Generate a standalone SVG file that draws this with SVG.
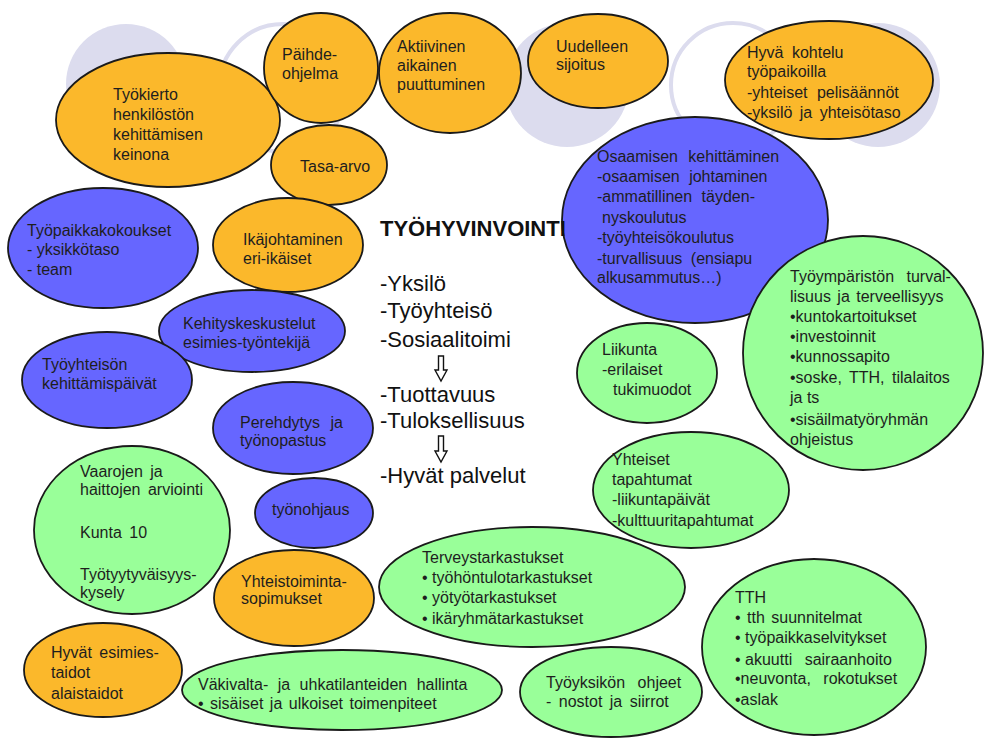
<svg xmlns="http://www.w3.org/2000/svg" width="985" height="738" viewBox="0 0 985 738">
<style>
.o{fill:#fbb82b;stroke:#1a1a1a;stroke-width:1.8}
.b{fill:#6666ff;stroke:#1a1a1a;stroke-width:1.8}
.g{fill:#99ff99;stroke:#1a1a1a;stroke-width:1.8}
.bgf{fill:#dcdcee}
.bgr{fill:#ffffff;stroke:#dcdcee;stroke-width:4}
.arrow{fill:#ffffff;stroke:#111;stroke-width:1.4;stroke-linejoin:miter}
text{font-family:"Liberation Sans",Arial,sans-serif;font-size:16px;fill:#1e1e1e}
.c{font-size:22px;fill:#111}
.t{font-size:22px;font-weight:bold;fill:#111}
</style>
<rect width="985" height="738" fill="#ffffff"/>
<g id="background">
<circle class="bgf" cx="126" cy="84" r="60"/>
<circle class="bgr" cx="283" cy="88" r="64"/>
<circle class="bgf" cx="567" cy="85" r="62"/>
<circle class="bgr" cx="733" cy="85" r="62"/>
<circle class="bgf" cx="878" cy="85" r="62"/>
</g>
<g id="n-tyokierto"><ellipse class="o" cx="168" cy="120" rx="112" ry="67"/>
<text x="113" y="100">Työkierto</text><text x="113" y="120">henkilöstön</text><text x="113" y="140">kehittämisen</text><text x="113" y="160">keinona</text></g>
<g id="n-paihde"><ellipse class="o" cx="321" cy="68" rx="57" ry="55"/>
<text x="282" y="60">Päihde-</text><text x="282" y="79">ohjelma</text></g>
<g id="n-aktiivinen"><ellipse class="o" cx="450" cy="73" rx="71" ry="60"/>
<text x="397" y="52">Aktiivinen</text><text x="397" y="71">aikainen</text><text x="397" y="90">puuttuminen</text></g>
<g id="n-uudelleen"><ellipse class="o" cx="598" cy="61" rx="70" ry="47"/>
<text x="556" y="52">Uudelleen</text><text x="556" y="70">sijoitus</text></g>
<g id="n-tasa"><ellipse class="o" cx="329" cy="165" rx="58" ry="40"/>
<text x="300" y="172">Tasa-arvo</text></g>
<g id="n-osaamisen"><ellipse class="b" cx="695" cy="220" rx="133" ry="103"/>
<text x="597" y="162" word-spacing="6">Osaamisen kehittäminen</text><text x="597" y="182" word-spacing="5">-osaamisen johtaminen</text><text x="597" y="202" word-spacing="5">-ammatillinen täyden-</text><text x="602" y="223">nyskoulutus</text><text x="597" y="243">-työyhteisökoulutus</text><text x="597" y="264" word-spacing="4">-turvallisuus (ensiapu</text><text x="597" y="283">alkusammutus…)</text></g>
<g id="n-hyva-kohtelu"><ellipse class="o" cx="829" cy="80" rx="104" ry="59"/>
<text x="747" y="58" word-spacing="4">Hyvä kohtelu</text><text x="747" y="77">työpaikoilla</text><text x="747" y="98" word-spacing="5">-yhteiset pelisäännöt</text><text x="747" y="118" word-spacing="3">-yksilö ja yhteisötaso</text></g>
<g id="n-tyopaikkakokoukset"><ellipse class="b" cx="103" cy="248" rx="95" ry="60"/>
<text x="27" y="236">Työpaikkakokoukset</text><text x="27" y="255">- yksikkötaso</text><text x="27" y="275">- team</text></g>
<g id="n-ikajohtaminen"><ellipse class="o" cx="288" cy="245" rx="75" ry="47"/>
<text x="243" y="245">Ikäjohtaminen</text><text x="243" y="264">eri-ikäiset</text></g>
<g id="n-kehityskeskustelut"><ellipse class="b" cx="252" cy="331" rx="93" ry="41"/>
<text x="183" y="329">Kehityskeskustelut</text><text x="183" y="348">esimies-työntekijä</text></g>
<g id="n-tyoyhteison"><ellipse class="b" cx="107" cy="380" rx="85" ry="48"/>
<text x="42" y="370">Työyhteisön</text><text x="42" y="389">kehittämispäivät</text></g>
<g id="n-perehdytys"><ellipse class="b" cx="293" cy="428" rx="80" ry="46"/>
<text x="240" y="428" word-spacing="6">Perehdytys ja</text><text x="240" y="446">työnopastus</text></g>
<g id="n-tyonohjaus"><ellipse class="b" cx="314" cy="513" rx="59" ry="35"/>
<text x="272" y="515">työnohjaus</text></g>
<g id="n-yhteistoiminta"><ellipse class="o" cx="294" cy="598" rx="80" ry="48"/>
<text x="241" y="587">Yhteistoiminta-</text><text x="241" y="604">sopimukset</text></g>
<g id="n-vaarojen"><ellipse class="g" cx="132" cy="530" rx="98" ry="84"/>
<text x="80" y="477" word-spacing="3">Vaarojen ja</text><text x="80" y="495" word-spacing="3">haittojen arviointi</text><text x="80" y="538" word-spacing="3">Kunta 10</text><text x="80" y="580">Työtyytyväisyys-</text><text x="80" y="598">kysely</text></g>
<g id="n-hyvat-esimiestaidot"><ellipse class="o" cx="103" cy="670" rx="79" ry="47"/>
<text x="51" y="658" word-spacing="3">Hyvät esimies-</text><text x="51" y="678">taidot</text><text x="51" y="699">alaistaidot</text></g>
<g id="n-vakivalta"><ellipse class="g" cx="342" cy="690" rx="160" ry="40"/>
<text x="198" y="690" word-spacing="5">Väkivalta- ja uhkatilanteiden hallinta</text><text x="198" y="709" word-spacing="2">• sisäiset ja ulkoiset toimenpiteet</text></g>
<g id="n-yhteiset"><ellipse class="g" cx="691" cy="490" rx="98" ry="58"/>
<text x="612" y="465">Yhteiset</text><text x="612" y="485">tapahtumat</text><text x="612" y="505">-liikuntapäivät</text><text x="612" y="526">-kulttuuritapahtumat</text></g>
<g id="n-terveys"><ellipse class="g" cx="532" cy="587" rx="153" ry="60"/>
<text x="422" y="563">Terveystarkastukset</text><text x="422" y="583">•  työhöntulotarkastukset</text><text x="422" y="603">• yötyötarkastukset</text><text x="422" y="624">• ikäryhmätarkastukset</text></g>
<g id="n-tyoyksikon"><ellipse class="g" cx="611" cy="692" rx="91" ry="45"/>
<text x="546" y="688" word-spacing="8">Työyksikön ohjeet</text><text x="546" y="707" word-spacing="3">- nostot ja siirrot</text></g>
<g id="n-tth"><ellipse class="g" cx="814" cy="647" rx="112" ry="88"/>
<text x="735" y="603">TTH</text><text x="735" y="623" word-spacing="2">• tth suunnitelmat</text><text x="735" y="643">• työpaikkaselvitykset</text><text x="735" y="665">• akuutti <tspan dx="8">sairaanhoito</tspan></text><text x="735" y="684" word-spacing="8">•neuvonta, rokotukset</text><text x="735" y="705">•aslak</text></g>
<g id="n-liikunta"><ellipse class="g" cx="647" cy="373" rx="70" ry="50"/>
<text x="602" y="355">Liikunta</text><text x="602" y="375">-erilaiset</text><text x="613" y="395">tukimuodot</text></g>
<g id="n-tyoymparisto"><ellipse class="g" cx="863" cy="353" rx="120" ry="117"/>
<text x="790" y="282" word-spacing="8">Työympäristön turval-</text><text x="790" y="302" word-spacing="2">lisuus ja terveellisyys</text><text x="790" y="322">•kuntokartoitukset</text><text x="790" y="342">•investoinnit</text><text x="790" y="362">•kunnossapito</text><text x="790" y="383" word-spacing="3">•soske, TTH, tilalaitos</text><text x="790" y="403">ja ts</text><text x="790" y="425">•sisäilmatyöryhmän</text><text x="790" y="445">ohjeistus</text></g>
<g id="n-tyohyvinvointi">
<text class="t" x="380" y="236">TYÖHYVINVOINTI</text>
<text class="c" x="380" y="291">-Yksilö</text>
<text class="c" x="380" y="318">-Työyhteisö</text>
<text class="c" x="380" y="347">-Sosiaalitoimi</text>
<text class="c" x="380" y="402">-Tuottavuus</text>
<text class="c" x="380" y="428">-Tuloksellisuus</text>
<text class="c" x="380" y="483">-Hyvät palvelut</text>
</g>
<g id="connectors">
<polygon class="arrow" points="438.5,356 443.5,356 443.5,370 447,370 441,381 435,370 438.5,370"/>
<polygon class="arrow" points="438.5,436 443.5,436 443.5,451 447,451 441,462 435,451 438.5,451"/>
</g>
</svg>
